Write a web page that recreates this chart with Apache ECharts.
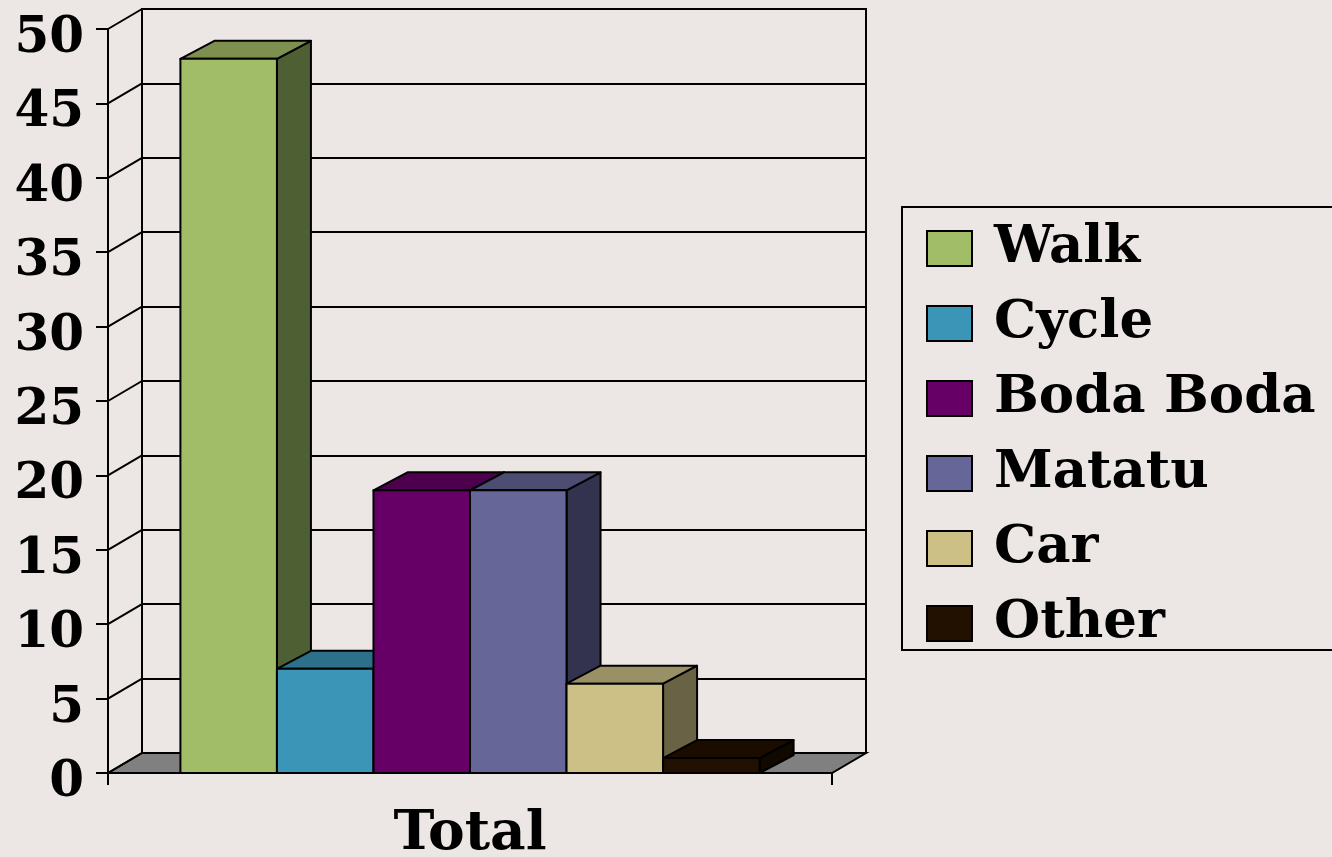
<!DOCTYPE html>
<html>
<head>
<meta charset="utf-8">
<script src="https://cdn.jsdelivr.net/npm/echarts@6/dist/echarts.min.js"></script>
<style>
  html, body { margin: 0; padding: 0; background: #ECE7E4; }
  #chart { width: 1332px; height: 857px; }
</style>
</head>
<body>
<div id="chart"></div>
<script>
// data
const categories = ['Total']
const seriesNames = ['Walk', 'Cycle', 'Boda Boda', 'Matatu', 'Car', 'Other']
const seriesValues = [48, 7, 19, 19, 6, 1]
const yTicks = [0, 5, 10, 15, 20, 25, 30, 35, 40, 45, 50]

// colours of each bar: front / top / side
const frontColors = ['#A2BD68', '#3A95B7', '#660066', '#666699', '#CCC087', '#221100']
const topColors = ['#7E9050', '#2C7089', '#4D004D', '#4D4D74', '#999066', '#1A0D00']
const sideColors = ['#4E5F33', '#215466', '#330033', '#333350', '#6A6245', '#110800']

const DX = 34      // depth of the 3d box, px to the right
const DY = 20      // depth of the 3d box, px up
const BAR_DY = 18
const FONT = 'DejaVu Serif'
const LINE = 2

const chart = echarts.init(document.getElementById('chart'))

function renderFloor(params, api) {
    const cs = params.coordSys
    const yb = cs.y + cs.height
    return {
        type: 'polygon',
        shape: { points: [[cs.x, yb], [cs.x + cs.width, yb], [cs.x + cs.width + DX, yb - DY], [cs.x + DX, yb - DY]] },
        style: { fill: '#808080', stroke: '#000', lineWidth: LINE }
    }
}

function renderSideWall(params, api) {
    const cs = params.coordSys
    const y = api.coord([0, api.value(0)])[1]
    return {
        type: 'line',
        shape: { x1: cs.x, y1: y, x2: cs.x + DX, y2: y - DY },
        style: { stroke: '#000', lineWidth: LINE }
    }
}

function makeBarRenderer(i) {
    return function (params, api) {
        const center = api.coord([api.value(0), 0])[0]
        const band = api.size([1, 0])[0]
        const group = band * 0.8
        const w = group / seriesNames.length
        const x = center - group / 2 + i * w
        const base = api.coord([api.value(0), 0])[1]
        const top = api.coord([api.value(0), api.value(1)])[1]
        const st = { stroke: '#000', lineWidth: LINE, lineJoin: 'round' }
        return {
            type: 'group',
            children: [
                {
                    type: 'polygon',
                    shape: { points: [[x + w, top], [x + w + DX, top - BAR_DY], [x + w + DX, base - BAR_DY], [x + w, base]] },
                    style: Object.assign({ fill: sideColors[i] }, st)
                },
                {
                    type: 'polygon',
                    shape: { points: [[x, top], [x + w, top], [x + w + DX, top - BAR_DY], [x + DX, top - BAR_DY]] },
                    style: Object.assign({ fill: topColors[i] }, st)
                },
                {
                    type: 'rect',
                    shape: { x: x, y: top, width: w, height: base - top },
                    style: Object.assign({ fill: frontColors[i] }, st)
                }
            ]
        }
    }
}

const barSeries = seriesNames.map(function (name, i) {
    return {
        name: name,
        type: 'custom',
        xAxisIndex: 0,
        yAxisIndex: 0,
        itemStyle: { color: frontColors[i], borderColor: '#000', borderWidth: LINE },
        renderItem: makeBarRenderer(i),
        encode: { x: 0, y: 1 },
        data: [[0, seriesValues[i]]],
        z: 10 + i
    }
})

const option = {
    backgroundColor: '#ECE7E4',
    animation: false,
    grid: [
        { left: 108, top: 29, right: 500, bottom: 84, outerBoundsMode: 'none', containLabel: false },
        { left: 108 + DX, top: 29 - DY, right: 500 - DX, bottom: 84 + DY, outerBoundsMode: 'none', containLabel: false,
          show: true, borderColor: '#000', borderWidth: LINE, backgroundColor: 'transparent' }
    ],
    xAxis: [
        {
            gridIndex: 0,
            type: 'category',
            data: categories,
            axisLine: { lineStyle: { color: '#000', width: LINE } },
            axisTick: { show: true, length: 12, lineStyle: { color: '#000', width: LINE } },
            axisLabel: { color: '#000', fontFamily: FONT, fontWeight: 'bold', fontSize: 55, margin: 34 }
        },
        {
            gridIndex: 1,
            type: 'category',
            data: categories,
            show: false
        }
    ],
    yAxis: [
        {
            gridIndex: 0,
            type: 'value',
            min: 0,
            max: 50,
            interval: 5,
            axisLine: { show: true, lineStyle: { color: '#000', width: LINE } },
            axisTick: { show: true, length: 12, lineStyle: { color: '#000', width: LINE } },
            splitLine: { show: false },
            axisLabel: { color: '#000', fontFamily: FONT, fontWeight: 'bold', fontSize: 50, margin: 24,
                         verticalAlign: 'top', lineHeight: 20 }
        },
        {
            gridIndex: 1,
            type: 'value',
            min: 0,
            max: 50,
            interval: 5,
            axisLine: { show: false },
            axisTick: { show: false },
            axisLabel: { show: false },
            splitLine: { show: true, lineStyle: { color: '#000', width: LINE } }
        }
    ],
    legend: {
        orient: 'vertical',
        left: 902,
        top: 207,
        padding: [15, 60, 0, 24],
        itemWidth: 45,
        itemHeight: 35,
        itemGap: 22,
        icon: 'rect',
        borderColor: '#000',
        borderWidth: LINE,
        itemStyle: { borderColor: '#000', borderWidth: LINE },
        textStyle: { color: '#000', fontFamily: FONT, fontWeight: 'bold', fontSize: 53, lineHeight: 35, padding: [0, 0, 0, 17] },
        data: seriesNames
    },
    series: [
        {
            type: 'custom',
            xAxisIndex: 0,
            yAxisIndex: 0,
            renderItem: renderFloor,
            data: [[0]],
            silent: true,
            z: 2
        },
        {
            type: 'custom',
            xAxisIndex: 0,
            yAxisIndex: 0,
            renderItem: renderSideWall,
            encode: { y: 0 },
            data: yTicks.map(function (v) { return [v] }),
            silent: true,
            z: 3
        }
    ].concat(barSeries)
}

chart.setOption(option)

window.addEventListener('resize', function () {
    chart.resize()
})
</script>
</body>
</html>
